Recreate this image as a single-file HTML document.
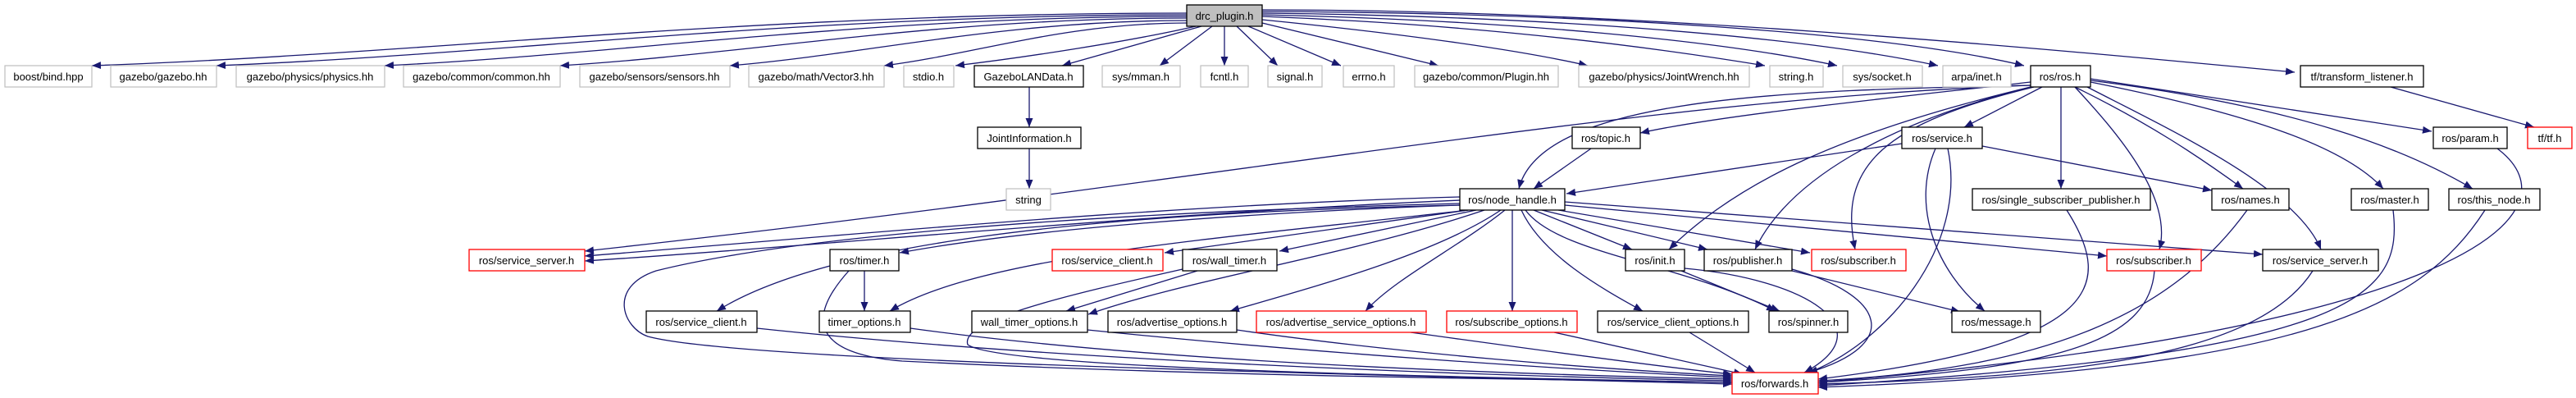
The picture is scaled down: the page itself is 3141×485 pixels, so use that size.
<!DOCTYPE html>
<html><head><meta charset="utf-8"><style>
html,body{margin:0;padding:0;background:#fff;width:3141px;height:485px;overflow:hidden}
svg{display:block}
text{font-family:"Liberation Sans",sans-serif;font-size:13px;text-anchor:middle;fill:#000}
.g{fill:#fff;stroke:#bfbfbf;stroke-width:1.2}
.b{fill:#fff;stroke:#000;stroke-width:1.3}
.r{fill:#fff;stroke:#ff0000;stroke-width:1.3}
path.e{fill:none;stroke:#191970;stroke-width:1.3;marker-end:url(#a)}
</style></head><body>
<svg width="3141" height="485" viewBox="0 0 3141 485" xmlns="http://www.w3.org/2000/svg">
<defs><marker id="a" markerUnits="userSpaceOnUse" markerWidth="12" markerHeight="10" refX="11" refY="4.5" orient="auto"><path d="M0,0 L11,4.5 L0,9 z" fill="#191970"/></marker></defs>
<g>
<path class="e" d="M1447,16 C913,16 512,66 112,80"/>
<path class="e" d="M1447,18 C974,18 619,66 264,80"/>
<path class="e" d="M1447,20 C1056,20 762,66 469,80"/>
<path class="e" d="M1447,22 C1141,22 912,66 683,80"/>
<path class="e" d="M1447,25 C1224,25 1057,66 890,80"/>
<path class="e" d="M1447,28 C1299,28 1189,66 1078,80"/>
<path class="e" d="M1458,32 C1380,50 1250,70 1165,80"/>
<path class="e" d="M1465,32 L1295,80"/>
<path class="e" d="M1478,32 L1414,80"/>
<path class="e" d="M1493,32 L1493,80"/>
<path class="e" d="M1508,32 L1558,80"/>
<path class="e" d="M1522,32 L1635,80"/>
<path class="e" d="M1539,28 L1754,80"/>
<path class="e" d="M1539,24 C1700,40 1850,60 1936,80"/>
<path class="e" d="M1539,20 C1800,30 2000,55 2152,80"/>
<path class="e" d="M1539,18 C1850,25 2100,50 2240,80"/>
<path class="e" d="M1539,16 C1900,20 2200,45 2363,80"/>
<path class="e" d="M1539,14 C1950,16 2300,40 2468,80"/>
<path class="e" d="M1539,12 C2000,12 2500,60 2798,88"/>
<path class="e" d="M1255,106 L1255,155"/>
<path class="e" d="M1255,181 L1255,230"/>
<path class="e" d="M2476,100 C2300,120 2100,140 2000,162"/>
<path class="e" d="M2476,104 C2200,110 1880,115 1852,230"/>
<path class="e" d="M1940,181 L1870,230"/>
<path class="e" d="M2319,175 L1910,236"/>
<path class="e" d="M2490,106 L2395,155"/>
<path class="e" d="M2513,106 L2513,230"/>
<path class="e" d="M2530,106 C2620,150 2680,190 2735,230"/>
<path class="e" d="M2549,100 C2750,140 2860,180 2906,230"/>
<path class="e" d="M2549,98 C2800,130 2930,180 3015,230"/>
<path class="e" d="M2549,96 L2965,160"/>
<path class="e" d="M2545,106 C2650,160 2800,230 2830,304"/>
<path class="e" d="M2530,106 C2580,160 2650,240 2633,304"/>
<path class="e" d="M2480,106 C2300,150 2240,200 2262,304"/>
<path class="e" d="M2476,106 C2300,150 2180,220 2140,304"/>
<path class="e" d="M2476,106 C2250,160 2120,220 2035,304"/>
<path class="e" d="M2476,104 C2000,120 1500,220 713,306"/>
<path class="e" d="M2360,181 C2330,250 2360,330 2420,379"/>
<path class="e" d="M2375,181 C2400,300 2300,420 2200,456"/>
<path class="e" d="M2417,178 L2697,232"/>
<path class="e" d="M2915,106 L3090,155"/>
<path class="e" d="M3045,181 C3150,260 3000,400 2217,466"/>
<path class="e" d="M1780,240 C1400,250 1000,290 713,312"/>
<path class="e" d="M1780,244 C1400,260 1000,300 713,318"/>
<path class="e" d="M1780,250 C1500,260 1250,280 1097,308"/>
<path class="e" d="M1790,256 L1420,308"/>
<path class="e" d="M1800,256 L1560,306"/>
<path class="e" d="M1780,250 C1300,260 1000,300 874,379"/>
<path class="e" d="M1790,256 C1500,290 1200,310 1085,379"/>
<path class="e" d="M1810,256 C1650,310 1450,340 1327,383"/>
<path class="e" d="M1830,256 C1750,310 1600,350 1500,379"/>
<path class="e" d="M1835,256 C1780,300 1700,340 1665,379"/>
<path class="e" d="M1844,256 L1844,379"/>
<path class="e" d="M1855,256 C1880,310 1950,350 2003,379"/>
<path class="e" d="M1860,256 C1900,310 2050,320 2165,379"/>
<path class="e" d="M1870,256 L1990,304"/>
<path class="e" d="M1880,256 L2082,304"/>
<path class="e" d="M1900,256 L2207,308"/>
<path class="e" d="M1908,250 L2569,312"/>
<path class="e" d="M1908,246 L2759,310"/>
<path class="e" d="M1780,248 C1300,260 960,290 800,330 C740,350 760,400 790,410 C900,440 1600,455 2112,468"/>
<path class="e" d="M1054,330 L1054,379"/>
<path class="e" d="M1035,330 C990,380 980,430 1100,440 C1500,460 1900,462 2112,466"/>
<path class="e" d="M1460,330 L1300,379"/>
<path class="e" d="M1442,328 C1300,360 1170,390 1180,420 C1220,450 1800,460 2112,466"/>
<path class="e" d="M923,400 C1300,440 1800,458 2112,464"/>
<path class="e" d="M1110,400 C1400,440 1800,455 2112,462"/>
<path class="e" d="M1326,402 C1600,430 1900,450 2112,460"/>
<path class="e" d="M1508,402 C1700,430 1950,450 2112,458"/>
<path class="e" d="M1720,405 C1900,430 2050,450 2112,456"/>
<path class="e" d="M1895,405 L2125,456"/>
<path class="e" d="M2060,405 L2140,454"/>
<path class="e" d="M2050,330 L2170,379"/>
<path class="e" d="M2054,327 C2200,340 2300,400 2200,454"/>
<path class="e" d="M2185,330 L2390,380"/>
<path class="e" d="M2185,328 C2300,360 2320,420 2205,454"/>
<path class="e" d="M2520,256 C2580,350 2560,420 2217,462"/>
<path class="e" d="M2740,256 C2650,380 2500,450 2217,464"/>
<path class="e" d="M2627,330 C2620,420 2500,450 2217,466"/>
<path class="e" d="M2820,330 C2750,440 2500,460 2217,468"/>
<path class="e" d="M2918,256 C2930,360 2880,430 2217,470"/>
<path class="e" d="M3030,256 C2950,380 2800,450 2217,472"/>
</g>
<g>
<rect x="1447" y="6" width="92" height="26" fill="#bfbfbf" stroke="#000" stroke-width="1.3"/><text x="1493" y="24">drc_plugin.h</text>
<rect class="g" x="6" y="80" width="106" height="26"/><text x="59" y="98">boost/bind.hpp</text>
<rect class="g" x="135" y="80" width="129" height="26"/><text x="199" y="98">gazebo/gazebo.hh</text>
<rect class="g" x="288" y="80" width="181" height="26"/><text x="378" y="98">gazebo/physics/physics.hh</text>
<rect class="g" x="492" y="80" width="191" height="26"/><text x="587" y="98">gazebo/common/common.hh</text>
<rect class="g" x="707" y="80" width="183" height="26"/><text x="798" y="98">gazebo/sensors/sensors.hh</text>
<rect class="g" x="913" y="80" width="165" height="26"/><text x="995" y="98">gazebo/math/Vector3.hh</text>
<rect class="g" x="1102" y="80" width="61" height="26"/><text x="1132" y="98">stdio.h</text>
<rect class="b" x="1188" y="80" width="133" height="26"/><text x="1254" y="98">GazeboLANData.h</text>
<rect class="g" x="1344" y="80" width="95" height="26"/><text x="1391" y="98">sys/mman.h</text>
<rect class="g" x="1464" y="80" width="58" height="26"/><text x="1493" y="98">fcntl.h</text>
<rect class="g" x="1546" y="80" width="66" height="26"/><text x="1579" y="98">signal.h</text>
<rect class="g" x="1638" y="80" width="62" height="26"/><text x="1669" y="98">errno.h</text>
<rect class="g" x="1725" y="80" width="175" height="26"/><text x="1812" y="98">gazebo/common/Plugin.hh</text>
<rect class="g" x="1925" y="80" width="208" height="26"/><text x="2029" y="98">gazebo/physics/JointWrench.hh</text>
<rect class="g" x="2158" y="80" width="65" height="26"/><text x="2190" y="98">string.h</text>
<rect class="g" x="2247" y="80" width="97" height="26"/><text x="2295" y="98">sys/socket.h</text>
<rect class="g" x="2369" y="80" width="83" height="26"/><text x="2410" y="98">arpa/inet.h</text>
<rect class="b" x="2476" y="80" width="73" height="26"/><text x="2512" y="98">ros/ros.h</text>
<rect class="b" x="2805" y="80" width="150" height="26"/><text x="2880" y="98">tf/transform_listener.h</text>
<rect class="b" x="1192" y="155" width="126" height="26"/><text x="1255" y="173">JointInformation.h</text>
<rect class="b" x="1917" y="155" width="83" height="26"/><text x="1958" y="173">ros/topic.h</text>
<rect class="b" x="2319" y="155" width="98" height="26"/><text x="2368" y="173">ros/service.h</text>
<rect class="b" x="2967" y="155" width="90" height="26"/><text x="3012" y="173">ros/param.h</text>
<rect class="r" x="3082" y="155" width="54" height="26"/><text x="3109" y="173">tf/tf.h</text>
<rect class="g" x="1227" y="230" width="54" height="26"/><text x="1254" y="248">string</text>
<rect class="b" x="1780" y="230" width="128" height="26"/><text x="1844" y="248">ros/node_handle.h</text>
<rect class="b" x="2405" y="230" width="217" height="26"/><text x="2513" y="248">ros/single_subscriber_publisher.h</text>
<rect class="b" x="2697" y="230" width="94" height="26"/><text x="2744" y="248">ros/names.h</text>
<rect class="b" x="2867" y="230" width="94" height="26"/><text x="2914" y="248">ros/master.h</text>
<rect class="b" x="2986" y="230" width="111" height="26"/><text x="3041" y="248">ros/this_node.h</text>
<rect class="r" x="572" y="304" width="141" height="26"/><text x="642" y="322">ros/service_server.h</text>
<rect class="b" x="1012" y="304" width="84" height="26"/><text x="1054" y="322">ros/timer.h</text>
<rect class="r" x="1283" y="304" width="135" height="26"/><text x="1350" y="322">ros/service_client.h</text>
<rect class="b" x="1442" y="304" width="115" height="26"/><text x="1499" y="322">ros/wall_timer.h</text>
<rect class="b" x="1982" y="304" width="72" height="26"/><text x="2018" y="322">ros/init.h</text>
<rect class="b" x="2078" y="304" width="107" height="26"/><text x="2131" y="322">ros/publisher.h</text>
<rect class="r" x="2209" y="304" width="115" height="26"/><text x="2266" y="322">ros/subscriber.h</text>
<rect class="r" x="2569" y="304" width="115" height="26"/><text x="2626" y="322">ros/subscriber.h</text>
<rect class="b" x="2759" y="304" width="141" height="26"/><text x="2829" y="322">ros/service_server.h</text>
<rect class="b" x="788" y="379" width="135" height="26"/><text x="855" y="397">ros/service_client.h</text>
<rect class="b" x="999" y="379" width="111" height="26"/><text x="1054" y="397">timer_options.h</text>
<rect class="b" x="1185" y="379" width="141" height="26"/><text x="1255" y="397">wall_timer_options.h</text>
<rect class="b" x="1351" y="379" width="157" height="26"/><text x="1429" y="397">ros/advertise_options.h</text>
<rect class="r" x="1532" y="379" width="207" height="26"/><text x="1635" y="397">ros/advertise_service_options.h</text>
<rect class="r" x="1764" y="379" width="159" height="26"/><text x="1843" y="397">ros/subscribe_options.h</text>
<rect class="b" x="1948" y="379" width="184" height="26"/><text x="2040" y="397">ros/service_client_options.h</text>
<rect class="b" x="2157" y="379" width="96" height="26"/><text x="2205" y="397">ros/spinner.h</text>
<rect class="b" x="2380" y="379" width="108" height="26"/><text x="2434" y="397">ros/message.h</text>
<rect class="r" x="2112" y="454" width="105" height="26"/><text x="2164" y="472">ros/forwards.h</text>
</g>
</svg>
</body></html>
